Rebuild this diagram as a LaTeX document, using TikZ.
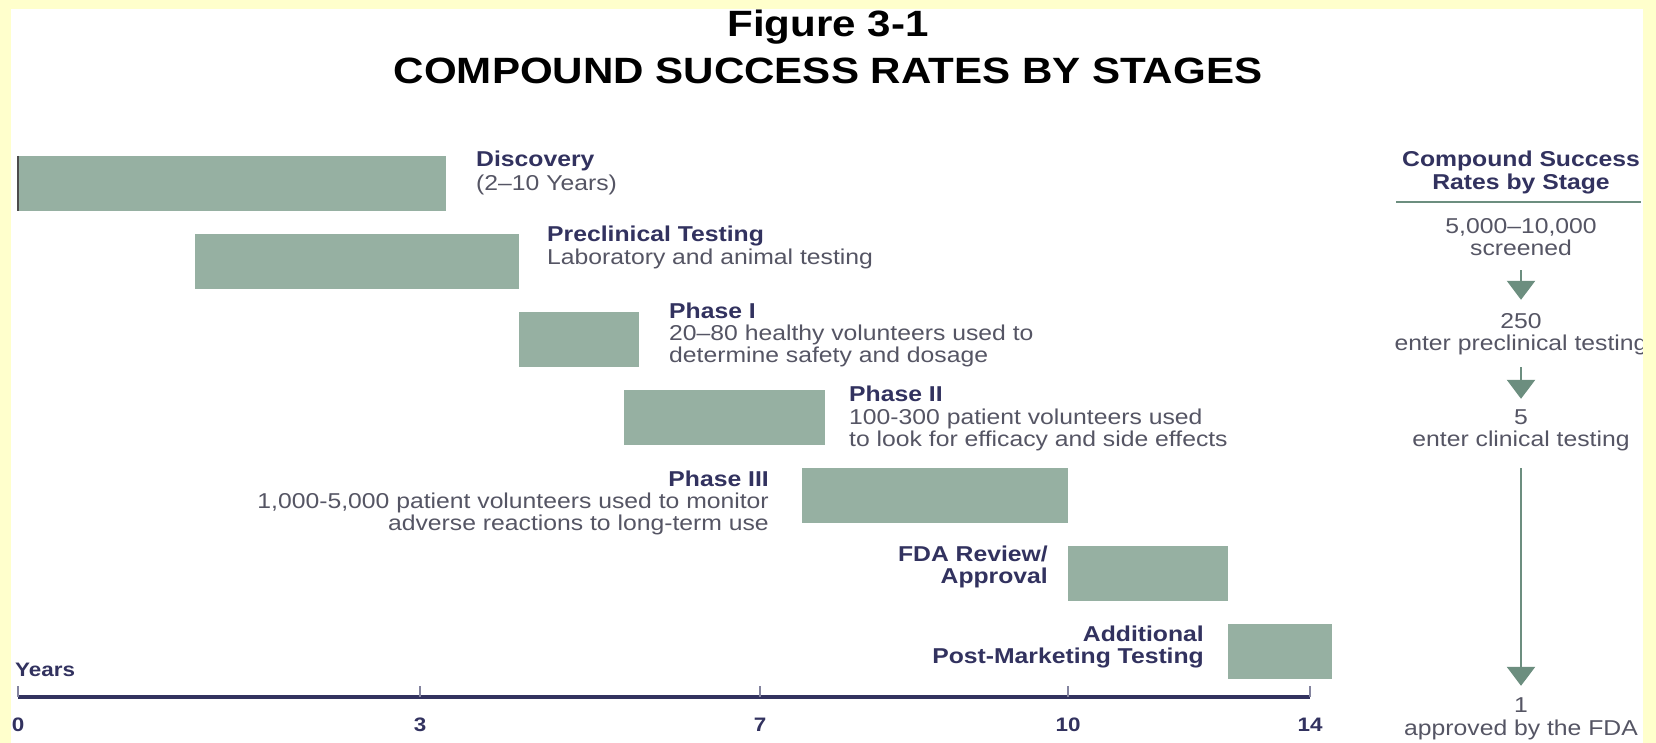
\documentclass[tikz,border=0pt]{standalone}
\usepackage{fontspec}
\setmainfont{Liberation Sans}[FakeStretch=1.15]
\usetikzlibrary{arrows.meta,positioning}

\definecolor{pagebg}{RGB}{255,255,204}
\definecolor{navy}{RGB}{50,50,95}
\definecolor{greytext}{RGB}{85,85,100}
\definecolor{barfill}{RGB}{150,176,162}
\definecolor{arrowfill}{RGB}{108,142,127}

\tikzset{
	figtitle/.style={font=\fontsize{36.6}{40}\selectfont\bfseries, text=black, inner sep=0pt, anchor=base},
	stagebar/.style={fill=barfill, inner sep=0pt, anchor=north west, minimum height=55pt},
	stagehead/.style={font=\fontsize{21.5}{22.5}\selectfont\bfseries, text=navy, inner sep=0pt},
	stagedesc/.style={font=\fontsize{21.5}{22.5}\selectfont, text=greytext, inner sep=0pt},
	ratetext/.style={font=\fontsize{21.5}{22.5}\selectfont, text=greytext, inner sep=0pt, text height=15pt, text depth=4pt, anchor=base},
	ratearrow/.style={draw=arrowfill, line width=2.5pt, -{Triangle[width=28pt,length=19pt]}},
	raterule/.style={draw=arrowfill, line width=2pt},
	yearaxis/.style={draw=navy, line width=3.5pt},
	axistick/.style={draw=navy!60, line width=1.2pt},
	yearlabel/.style={font=\fontsize{19.5}{20}\selectfont\bfseries, text=navy, inner sep=0pt, anchor=base},
}

\begin{document}
\begin{tikzpicture}[x=1pt,y=-1pt]
	\useasboundingbox (0,0) rectangle (1656,743);
	\fill[pagebg] (0,0) rectangle (1656,743);
	\fill[white] (11,9) rectangle (1643,743);

	\draw (828,37) node[figtitle] (fig) {Figure 3-1};
	\draw (828,84) node[figtitle] (ttl) {COMPOUND SUCCESS RATES BY STAGES};

	\draw (18,156) node[stagebar, minimum width=428pt] (disc) {};
	\draw (195,234) node[stagebar, minimum width=324pt] (precl) {};
	\draw (519,312) node[stagebar, minimum width=120pt] (ph1) {};
	\draw (624,390) node[stagebar, minimum width=201pt] (ph2) {};
	\draw (802,468) node[stagebar, minimum width=266pt] (ph3) {};
	\draw (1068,546) node[stagebar, minimum width=160pt] (fda) {};
	\draw (1228,624) node[stagebar, minimum width=104pt] (post) {};
	\draw[draw=gray!60!black, line width=1.5pt] (disc.north west) -- (disc.south west);

	% multi-line labels sit on the baseline of their last line
	\draw (476,167) node[stagehead, anchor=base west] (discH) {Discovery};
	\draw (476,191) node[stagedesc, anchor=base west] (discD) {(2--10 Years)};
	\draw (547,242) node[stagehead, anchor=base west] (preclH) {Preclinical Testing};
	\draw (547,265) node[stagedesc, anchor=base west] (preclD) {Laboratory and animal testing};
	\draw (669,318) node[stagehead, anchor=base west] (ph1H) {Phase I};
	\draw (669,362.5) node[stagedesc, anchor=base west, align=left] (ph1D) {20--80 healthy volunteers used to\\determine safety and dosage};
	\draw (849,401) node[stagehead, anchor=base west] (ph2H) {Phase II};
	\draw (849,446.5) node[stagedesc, anchor=base west, align=left] (ph2D) {100-300 patient volunteers used\\to look for efficacy and side effects};
	\draw (769,486) node[stagehead, anchor=base east] (ph3H) {Phase III};
	\draw (769,530.5) node[stagedesc, anchor=base east, align=right] (ph3D) {1,000-5,000 patient volunteers used to monitor\\adverse reactions to long-term use};
	\draw (1048,583.5) node[stagehead, anchor=base east, align=right] (fdaH) {FDA Review/\\Approval};
	\draw (1204,663.5) node[stagehead, anchor=base east, align=right] (postH) {Additional\\Post-Marketing Testing};

	\draw[yearaxis] (18,697) -- (1310,697);
	\foreach \x/\yr in {18/0,420/3,760/7,1068/10,1310/14} {
		\draw[axistick] (\x,697) -- (\x,686);
		\draw (\x,731) node[yearlabel] (yr\yr) {\yr};
	}
	\draw (15,676) node[yearlabel, anchor=base west] (years) {Years};

	\draw (1521,189.5) node[stagehead, align=center, anchor=base] (rhead) {Compound Success\\Rates by Stage};
	\draw[raterule] (1396,202) -- (1641,202);
	\draw (1521,234) node[ratetext] (n1) {5,000--10,000};
	\draw (1521,256) node[ratetext] (c1) {screened};
	\draw (1521,328) node[ratetext] (n2) {250};
	\draw (1521,350) node[ratetext] (c2) {enter preclinical testing};
	\draw (1521,424) node[ratetext] (n3) {5};
	\draw (1521,446) node[ratetext] (c3) {enter clinical testing};
	\draw (1521,712) node[ratetext] (n4) {1};
	\draw (1521,735) node[ratetext] (c4) {approved by the FDA};

	\draw[ratearrow, shorten <=10pt, shorten >=13pt] (c1) -- (n2);
	\draw[ratearrow, shorten <=13pt, shorten >=10pt] (c2) -- (n3);
	\draw[ratearrow, shorten <=18pt, shorten >=11pt] (c3) -- (n4);

	\fill[pagebg] (1643,9) rectangle (1656,743);
\end{tikzpicture}
\end{document}
